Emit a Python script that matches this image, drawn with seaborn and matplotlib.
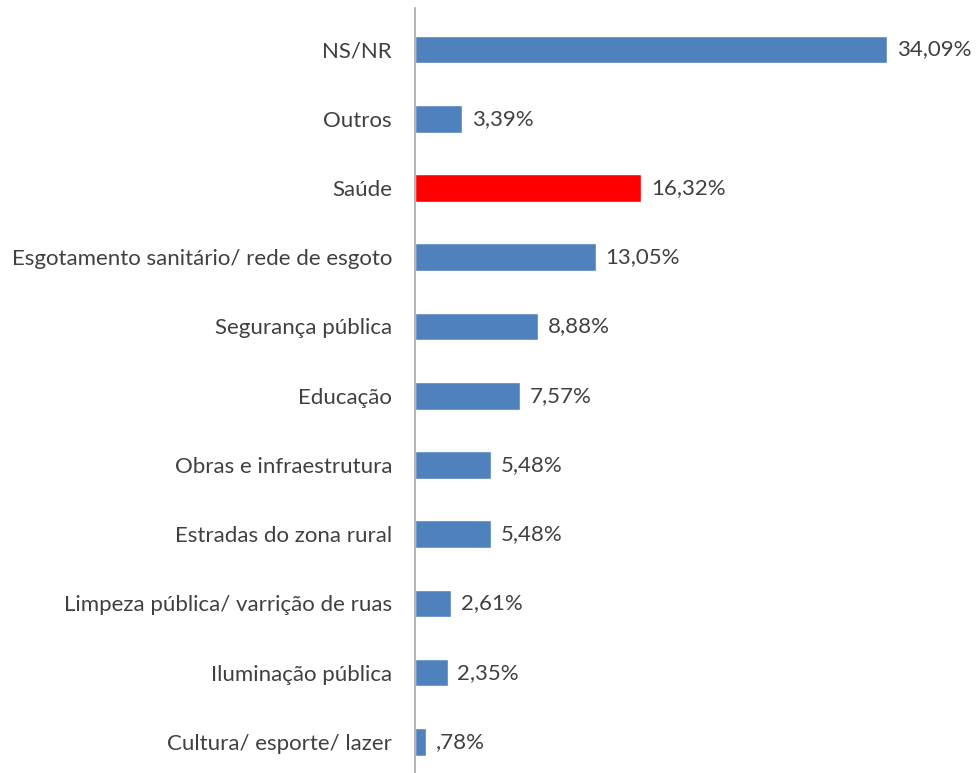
import matplotlib
matplotlib.use("Agg")
import matplotlib.pyplot as plt
import seaborn as sns
import pandas as pd

categories = [
    "NS/NR",
    "Outros",
    "Saúde",
    "Esgotamento sanitário/ rede de esgoto",
    "Segurança pública",
    "Educação",
    "Obras e infraestrutura",
    "Estradas do zona rural",
    "Limpeza pública/ varrição de ruas",
    "Iluminação pública",
    "Cultura/ esporte/ lazer",
]
values = [34.09, 3.39, 16.32, 13.05, 8.88, 7.57, 5.48, 5.48, 2.61, 2.35, 0.78]
value_labels = ["34,09%", "3,39%", "16,32%", "13,05%", "8,88%", "7,57%",
                "5,48%", "5,48%", "2,61%", "2,35%", ",78%"]
highlight = "Saúde"

sns.set_theme(style="white")
plt.rcParams["font.family"] = ["Lato", "DejaVu Sans"]

df = pd.DataFrame({"categoria": categories, "valor": values})
blue = "#4F81BD"
red = "#FF0000"
palette = {c: (red if c == highlight else blue) for c in categories}

fig = plt.figure(figsize=(9.79, 7.73), dpi=100)
ax = fig.add_axes([415 / 979, 0.0, 1 - 415 / 979, 1 - 8 / 773])

sns.barplot(data=df, x="valor", y="categoria", hue="categoria", palette=palette,
            order=categories, legend=False, width=0.4, ax=ax, saturation=1)

ax.set_xlim(0, 40.7)
ax.set_ylim(10.45, -0.6)

text_color = "#404040"
for i, (v, lab) in enumerate(zip(values, value_labels)):
    ax.text(v + 0.7, i, lab, va="center", ha="left", fontsize=16, color=text_color)

ax.set_xlabel("")
ax.set_ylabel("")
ax.set_xticks([])
ax.tick_params(axis="y", length=0, pad=16.5, labelsize=16, labelcolor=text_color)
for side in ["top", "right", "bottom"]:
    ax.spines[side].set_visible(False)
ax.spines["left"].set_color("#A6A6A6")
ax.spines["left"].set_linewidth(1.2)

fig.savefig("out.png", dpi=100, facecolor="white")
